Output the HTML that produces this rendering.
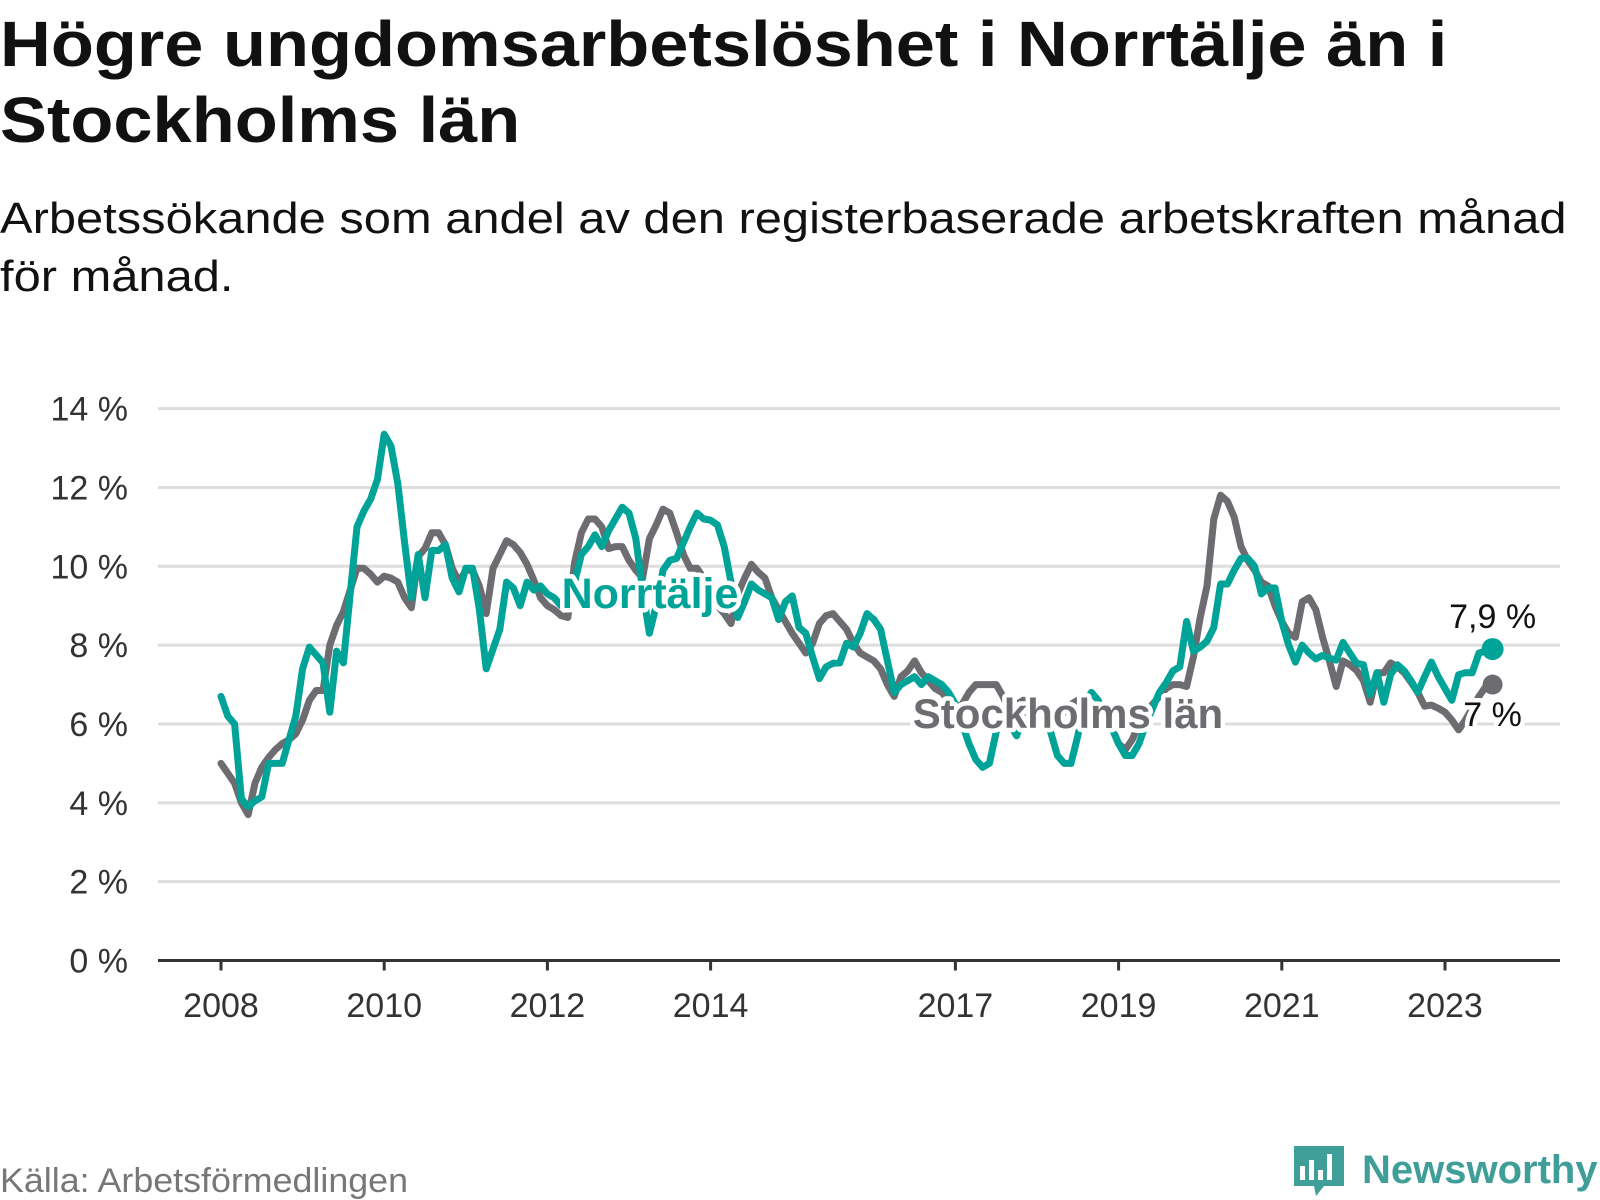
<!DOCTYPE html>
<html><head><meta charset="utf-8">
<style>
html,body{margin:0;padding:0;background:#fff;}
body{width:1600px;height:1200px;overflow:hidden;position:relative;font-family:"Liberation Sans",sans-serif;}
.title{position:absolute;left:0;top:6px;font-weight:bold;font-size:64px;line-height:76px;color:#111;margin:0;transform:scaleX(1.1);transform-origin:0 0;white-space:nowrap;}
.sub{position:absolute;left:0;top:190px;font-size:44px;line-height:58px;color:#111;margin:0;transform:scaleX(1.11);transform-origin:0 0;white-space:nowrap;}
svg{position:absolute;left:0;top:0;}
</style></head>
<body>
<h1 class="title">Högre ungdomsarbetslöshet i Norrtälje än i<br>Stockholms län</h1>
<p class="sub">Arbetssökande som andel av den registerbaserade arbetskraften månad<br>för månad.</p>
<svg id="chart" width="1600" height="1200"></svg>
<script>
const yTicks=[0,2,4,6,8,10,12,14];
const xTickLabels=["2008","2010","2012","2014","2017","2019","2021","2023"];
const xTickIdx=[0,24,48,72,108,132,156,180];
const norrtalje=[6.7,6.2,6.0,4.1,3.9,4.05,4.15,5.0,5.0,5.0,
5.6,6.2,7.4,7.95,7.75,7.55,6.3,7.85,7.55,9.3,
11.0,11.4,11.7,12.2,13.35,13.05,12.1,10.6,9.2,10.3,
9.2,10.4,10.4,10.55,9.7,9.35,9.95,9.95,8.9,7.4,
7.9,8.4,9.6,9.45,9.0,9.6,9.4,9.5,9.3,9.2,
9.0,9.0,9.6,10.3,10.5,10.8,10.5,10.9,11.2,11.5,
11.35,10.7,9.4,8.3,9.0,9.9,10.15,10.2,10.6,11.0,
11.35,11.2,11.17,11.05,10.5,9.6,8.7,9.1,9.55,9.4,
9.3,9.2,8.65,9.1,9.25,8.45,8.3,7.7,7.15,7.45,
7.54,7.55,8.05,7.95,8.3,8.8,8.65,8.4,7.6,6.8,
7.0,7.1,7.2,7.0,7.2,7.1,7.0,6.8,6.5,6.0,
5.5,5.1,4.9,5.0,5.8,6.4,6.0,5.7,6.2,6.4,
6.5,6.3,5.8,5.2,5.0,5.0,5.7,6.5,6.8,6.6,
6.2,5.9,5.5,5.2,5.2,5.5,6.0,6.4,6.8,7.05,
7.35,7.45,8.6,7.85,7.95,8.1,8.45,9.55,9.55,9.9,
10.2,10.2,10.0,9.3,9.45,9.45,8.6,8.0,7.57,8.0,
7.8,7.65,7.74,7.67,7.62,8.07,7.8,7.54,7.5,6.75,
7.3,6.55,7.25,7.5,7.35,7.1,6.8,7.2,7.57,7.2,
6.9,6.6,7.25,7.3,7.3,7.8,7.85,7.9];
const stockholm=[5.0,4.75,4.5,4.0,3.7,4.5,4.9,5.15,5.35,5.5,
5.6,5.75,6.1,6.6,6.85,6.85,8.0,8.5,8.85,9.4,
9.95,9.95,9.8,9.6,9.75,9.7,9.6,9.2,8.95,10.25,
10.45,10.85,10.85,10.55,9.95,9.6,9.9,9.9,9.5,8.8,
9.95,10.3,10.65,10.55,10.35,10.05,9.65,9.2,9.0,8.9,
8.75,8.7,10.1,10.85,11.2,11.2,11.0,10.45,10.5,10.5,
10.15,9.9,9.7,10.7,11.05,11.45,11.35,10.85,10.3,9.95,
9.95,9.7,9.4,9.0,8.8,8.55,9.3,9.7,10.05,9.85,
9.7,9.2,8.9,8.6,8.3,8.05,7.8,8.05,8.55,8.75,
8.8,8.6,8.4,8.05,7.8,7.7,7.6,7.4,7.0,6.7,
7.2,7.35,7.6,7.3,7.1,6.9,6.8,6.6,6.4,6.5,
6.8,7.0,7.0,7.0,7.0,6.7,6.3,6.5,6.6,6.5,
6.3,6.1,6.1,6.2,6.3,6.5,6.6,6.6,6.4,6.2,
6.0,5.9,5.5,5.35,5.6,6.0,6.3,6.5,6.7,6.9,
7.0,7.0,6.95,7.7,8.7,9.5,11.2,11.8,11.65,11.25,
10.5,10.15,9.9,9.6,9.5,9.0,8.6,8.3,8.2,9.1,
9.2,8.9,8.2,7.6,6.95,7.6,7.5,7.36,7.1,6.55,
7.3,7.3,7.55,7.45,7.3,7.06,6.8,6.45,6.48,6.4,
6.3,6.1,5.85,6.1,6.4,6.7,6.95,7.0];
const endLabels=["7,9 %","7 %"];

const NS="http://www.w3.org/2000/svg";
const svg=document.getElementById('chart');
const X0=221,DX=6.8,Y0=960.5,DY=39.42,XL=158,XR=1560;
function xs(i){return X0+i*DX;}
function ys(v){return Y0-v*DY;}
function mk(tag,attrs,parent){const e=document.createElementNS(NS,tag);for(const k in attrs)e.setAttribute(k,attrs[k]);(parent||svg).appendChild(e);return e;}
const TEAL="#00a398",GREY="#6d6c71";

yTicks.forEach(v=>{
  if(v>0){const g=mk('line',{x1:XL,x2:XR,y1:ys(v),y2:ys(v),stroke:'#dddddd','stroke-width':3});
  
  }
  const t=mk('text',{x:128,y:ys(v)+12,'text-anchor':'end','font-size':34,fill:'#333','font-family':'Liberation Sans, sans-serif'});
  t.textContent=v+' %';
  
  
});
const ax=mk('line',{x1:XL,x2:XR,y1:Y0,y2:Y0,stroke:'#333','stroke-width':3});


xTickIdx.forEach((ix,k)=>{
  const tk=mk('line',{x1:xs(ix),x2:xs(ix),y1:Y0,y2:Y0+10,stroke:'#333','stroke-width':3});
  
  
  const t=mk('text',{x:xs(ix),y:1017,'text-anchor':'middle','font-size':34,fill:'#333','font-family':'Liberation Sans, sans-serif'});
  t.textContent=xTickLabels[k];
  
  
});
function path(arr){return arr.map((v,i)=>(i?'L':'M')+xs(i).toFixed(1)+' '+ys(v).toFixed(1)).join(' ');}
const ps=mk('path',{d:path(stockholm),fill:'none',stroke:GREY,'stroke-width':7,'stroke-linejoin':'round','stroke-linecap':'round'});


const pn=mk('path',{d:path(norrtalje),fill:'none',stroke:TEAL,'stroke-width':7,'stroke-linejoin':'round','stroke-linecap':'round'});


const ls=stockholm.length-1, ln=norrtalje.length-1;
const ds=mk('circle',{cx:xs(ls),cy:ys(stockholm[ls]),r:10,fill:GREY});


const dn=mk('circle',{cx:xs(ln),cy:ys(norrtalje[ln]),r:11,fill:TEAL});


function label(txt,x,y,col,size,bold,anchor,name){
  const t=mk('text',{x:x,y:y,'text-anchor':anchor,'font-size':size,'font-weight':bold?'bold':'normal',fill:col,stroke:'#fff','stroke-width':9,'stroke-linejoin':'round','paint-order':'stroke','font-family':'Liberation Sans, sans-serif'});
  t.textContent=txt;
  
  
}
label('Norrtälje',650,608,TEAL,43,true,'middle','norrtalje-series-label');
label('Stockholms län',1068,728,GREY,42,true,'middle','stockholm-series-label');
label(endLabels[0],xs(ln),628,'#111',34,false,'middle','norrtalje-end-value');
label(endLabels[1],xs(ls),726,'#111',34,false,'middle','stockholm-end-value');
const src=mk('text',{x:0,y:1192,'font-size':34,fill:'#777','font-family':'Liberation Sans, sans-serif',textLength:408,lengthAdjust:'spacingAndGlyphs'});
src.textContent='Källa: Arbetsförmedlingen';


const logo=mk('g',{});


mk('path',{d:'M1294 1146 h50 v40 h-20 l-8 10 l-2 -10 h-20 z',fill:'#3f9e98'},logo);
mk('rect',{x:1300,y:1166,width:5,height:14,fill:'#fff'},logo);
mk('rect',{x:1309,y:1160,width:5,height:20,fill:'#fff'},logo);
mk('rect',{x:1318,y:1170,width:5,height:10,fill:'#fff'},logo);
mk('rect',{x:1327,y:1154,width:5,height:26,fill:'#fff'},logo);
const lt=mk('text',{x:1362,y:1183,'font-size':40,'font-weight':'bold',fill:'#3f9e98','font-family':'Liberation Sans, sans-serif'},logo);
lt.textContent='Newsworthy';
</script>
</body></html>
